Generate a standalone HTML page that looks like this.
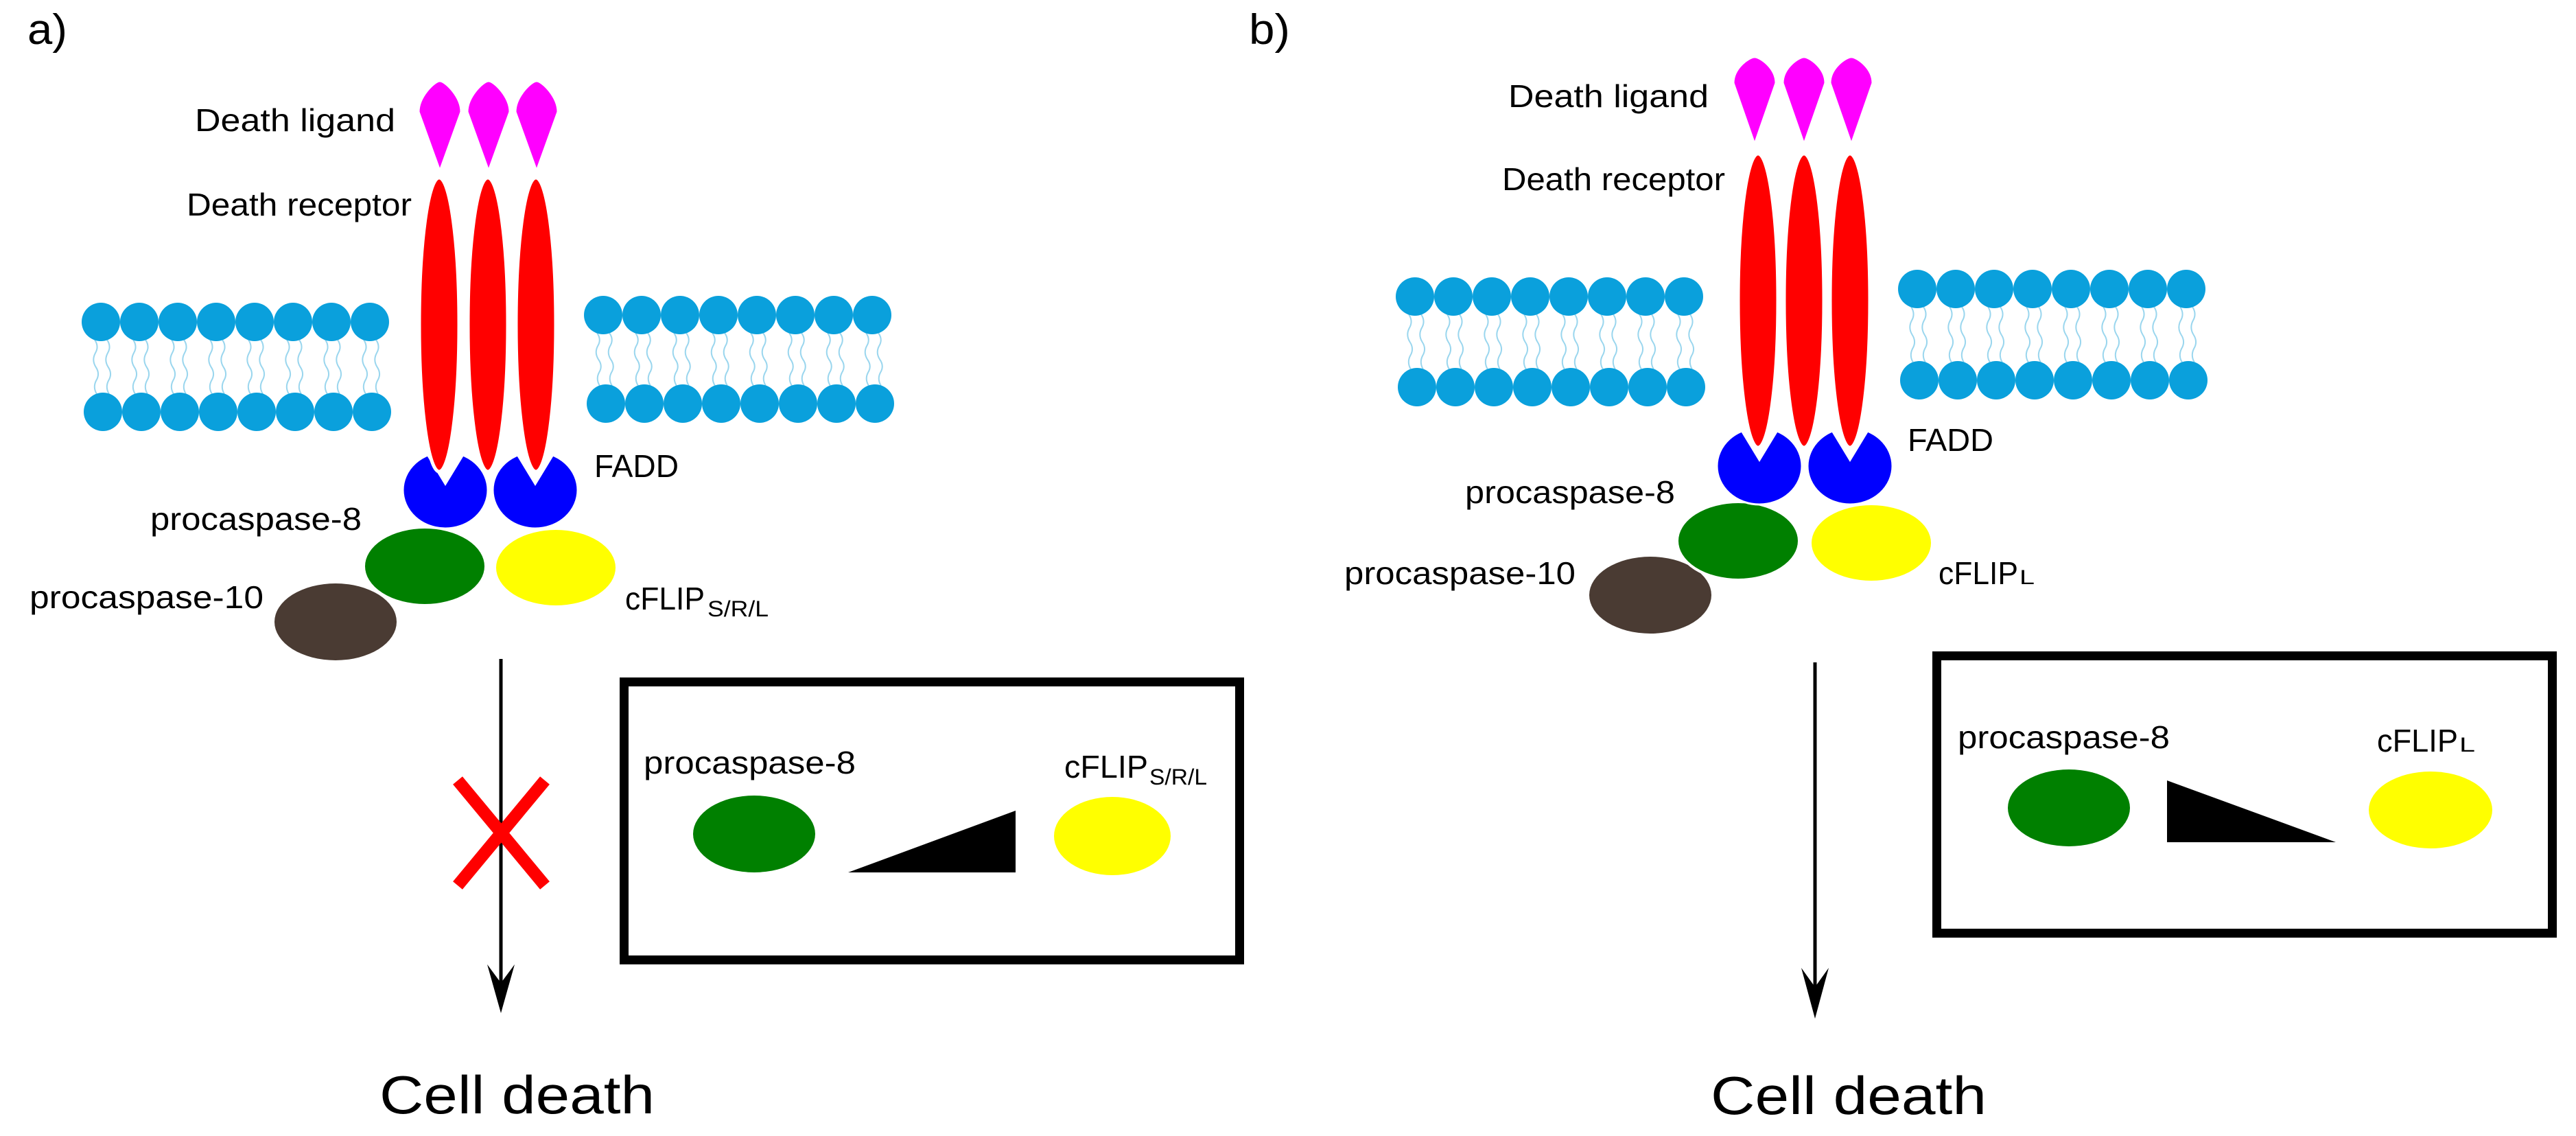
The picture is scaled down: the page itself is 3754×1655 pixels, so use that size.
<!DOCTYPE html>
<html><head><meta charset="utf-8"><style>
html,body{margin:0;padding:0;background:#fff;}
svg{display:block;}
text{font-family:"Liberation Sans",sans-serif;fill:#000;}
</style></head><body>
<svg id="s" width="3754" height="1655" viewBox="0 0 3754 1655" xmlns="http://www.w3.org/2000/svg">
<rect width="3754" height="1655" fill="#fff"/>
<g id="lip"></g>
<g id="mol"></g>

<!-- Panel a labels -->
<text x="40" y="64" font-size="62" textLength="58" lengthAdjust="spacingAndGlyphs">a)</text>
<text x="284" y="191" font-size="46" textLength="292" lengthAdjust="spacingAndGlyphs">Death ligand</text>
<text x="272" y="314" font-size="46" textLength="328" lengthAdjust="spacingAndGlyphs">Death receptor</text>
<text x="866" y="695" font-size="46" textLength="123" lengthAdjust="spacingAndGlyphs">FADD</text>
<text x="219" y="772" font-size="46" textLength="308" lengthAdjust="spacingAndGlyphs">procaspase-8</text>
<text x="43" y="886" font-size="46" textLength="341" lengthAdjust="spacingAndGlyphs">procaspase-10</text>
<text x="911" y="888" font-size="46" textLength="116" lengthAdjust="spacingAndGlyphs">cFLIP</text>
<text x="1031" y="898" font-size="32" textLength="89" lengthAdjust="spacingAndGlyphs">S/R/L</text>

<!-- Panel b labels -->
<text x="1820" y="64" font-size="62" textLength="60" lengthAdjust="spacingAndGlyphs">b)</text>
<text x="2198" y="156" font-size="46" textLength="292" lengthAdjust="spacingAndGlyphs">Death ligand</text>
<text x="2189" y="277" font-size="46" textLength="325" lengthAdjust="spacingAndGlyphs">Death receptor</text>
<text x="2780" y="657" font-size="46" textLength="125" lengthAdjust="spacingAndGlyphs">FADD</text>
<text x="2135" y="733" font-size="46" textLength="306" lengthAdjust="spacingAndGlyphs">procaspase-8</text>
<text x="1959" y="851" font-size="46" textLength="337" lengthAdjust="spacingAndGlyphs">procaspase-10</text>
<text x="2825" y="851" font-size="46" textLength="116" lengthAdjust="spacingAndGlyphs">cFLIP</text>
<text x="2943" y="851" font-size="30" textLength="22" lengthAdjust="spacingAndGlyphs">L</text>

<!-- Arrows -->
<line x1="730" y1="960" x2="730" y2="1440" stroke="#000" stroke-width="5"/>
<path d="M710,1405 L730,1476 L750,1405 L730,1432 Z" fill="#000"/>
<line x1="667" y1="1137" x2="794" y2="1290" stroke="#ff0000" stroke-width="18"/>
<line x1="794" y1="1137" x2="667" y2="1290" stroke="#ff0000" stroke-width="18"/>
<line x1="2645" y1="965" x2="2645" y2="1445" stroke="#000" stroke-width="5"/>
<path d="M2625,1410 L2645,1484 L2665,1410 L2645,1438 Z" fill="#000"/>

<text x="553" y="1622" font-size="78" textLength="401" lengthAdjust="spacingAndGlyphs">Cell death</text>
<text x="2493" y="1623" font-size="78" textLength="402" lengthAdjust="spacingAndGlyphs">Cell death</text>

<!-- Box a -->
<rect x="909.5" y="993.5" width="897" height="405" fill="none" stroke="#000" stroke-width="13"/>
<text x="938" y="1127" font-size="46" textLength="309" lengthAdjust="spacingAndGlyphs">procaspase-8</text>
<ellipse cx="1099" cy="1215" rx="89" ry="56" fill="#008000"/>
<polygon points="1236,1271 1480,1181 1480,1271" fill="#000"/>
<ellipse cx="1621" cy="1218" rx="85" ry="57" fill="#ffff00"/>
<text x="1551" y="1133" font-size="46" textLength="122" lengthAdjust="spacingAndGlyphs">cFLIP</text>
<text x="1675" y="1143" font-size="32" textLength="84" lengthAdjust="spacingAndGlyphs">S/R/L</text>

<!-- Box b -->
<rect x="2822.5" y="955.5" width="897" height="404" fill="none" stroke="#000" stroke-width="13"/>
<text x="2853" y="1090" font-size="46" textLength="309" lengthAdjust="spacingAndGlyphs">procaspase-8</text>
<ellipse cx="3015" cy="1177" rx="89" ry="56" fill="#008000"/>
<polygon points="3158,1137 3158,1227 3404,1227" fill="#000"/>
<ellipse cx="3542" cy="1180" rx="90" ry="56" fill="#ffff00"/>
<text x="3464" y="1095" font-size="46" textLength="118" lengthAdjust="spacingAndGlyphs">cFLIP</text>
<text x="3584" y="1095" font-size="30" textLength="23" lengthAdjust="spacingAndGlyphs">L</text>
</svg>
<script>
(function(){
var NS="http://www.w3.org/2000/svg";
var lip=document.getElementById("lip"), mol=document.getElementById("mol");
function el(p,tag,a){var e=document.createElementNS(NS,tag);for(var k in a)e.setAttribute(k,a[k]);p.appendChild(e);return e;}
function bilayer(x0,yT,x1,yB){
  for(var i=0;i<8;i++){
    var xt=x0+i*56, xb=x1+i*56;
    for(var j=-1;j<=1;j+=2){
      var a=xt+j*9,b=xb+j*9, y0=yT+26,y1=yB-26, h=(y1-y0);
      var d="M"+a+","+y0;
      for(var k=1;k<=4;k++){var yy=y0+h*k/4, xx=a+(b-a)*k/4; d+=" Q"+(xx+(k%2?6:-6))+","+(yy-h/8)+" "+xx+","+yy;}
      el(lip,"path",{d:d,fill:"none",stroke:"#9ad6ee","stroke-width":"2"});
    }
  }
  for(var i=0;i<8;i++){
    el(lip,"ellipse",{cx:x0+i*56,cy:yT,rx:28,ry:28,fill:"#0aa0dc"});
    el(lip,"ellipse",{cx:x1+i*56,cy:yB,rx:28,ry:28,fill:"#0aa0dc"});
  }
}
bilayer(147,469,150,600); bilayer(879,459,883,588);
bilayer(2062,432,2065,564); bilayer(2794,421,2797,554);

function ligand(cx,top,mid,bot){
  el(mol,"path",{d:"M"+(cx-31)+","+mid+" C"+(cx-31)+","+(mid-22)+" "+(cx-8)+","+top+" "+cx+","+top+" C"+(cx+8)+","+top+" "+(cx+31)+","+(mid-22)+" "+(cx+31)+","+mid+" L"+cx+","+bot+" Z",fill:"#ff00ff",stroke:"#fff","stroke-width":"3"});
}
function panel(o){
  el(mol,"ellipse",{cx:o.br[0],cy:o.br[1],rx:89,ry:56,fill:"#4a3b33"});
  el(mol,"ellipse",{cx:o.gr[0],cy:o.gr[1],rx:89,ry:57,fill:"#008000",stroke:"#fff","stroke-width":"4"});
  el(mol,"ellipse",{cx:o.ye[0],cy:o.ye[1],rx:89,ry:57,fill:"#ffff00",stroke:"#fff","stroke-width":"4"});
  o.fadd.forEach(function(cx){
    el(mol,"ellipse",{cx:cx,cy:o.fy,rx:62,ry:56,fill:"#0000ff",stroke:"#fff","stroke-width":"3"});
    el(mol,"polygon",{points:(cx-34)+","+(o.fy-62)+" "+cx+","+(o.fy-6)+" "+(cx+34)+","+(o.fy-62),fill:"#fff"});
  });
  o.rec.forEach(function(cx){
    el(mol,"ellipse",{cx:cx,cy:o.ry,rx:29,ry:214,fill:"#ff0000",stroke:"#fff","stroke-width":"5"});
  });
  o.lig.forEach(function(cx){ligand(cx,o.lt,o.lm,o.lb);});
}
panel({br:[489,906],gr:[619,825],ye:[810,827],fadd:[649,780],fy:714,rec:[640,711,781],ry:473,lig:[641,712,782],lt:118,lm:163,lb:249});
panel({br:[2405,867],gr:[2533,788],ye:[2727,791],fadd:[2564,2696],fy:679,rec:[2562,2629,2696],ry:438,lig:[2557,2629,2698],lt:83,lm:121,lb:210});
})();
</script>
</body></html>
